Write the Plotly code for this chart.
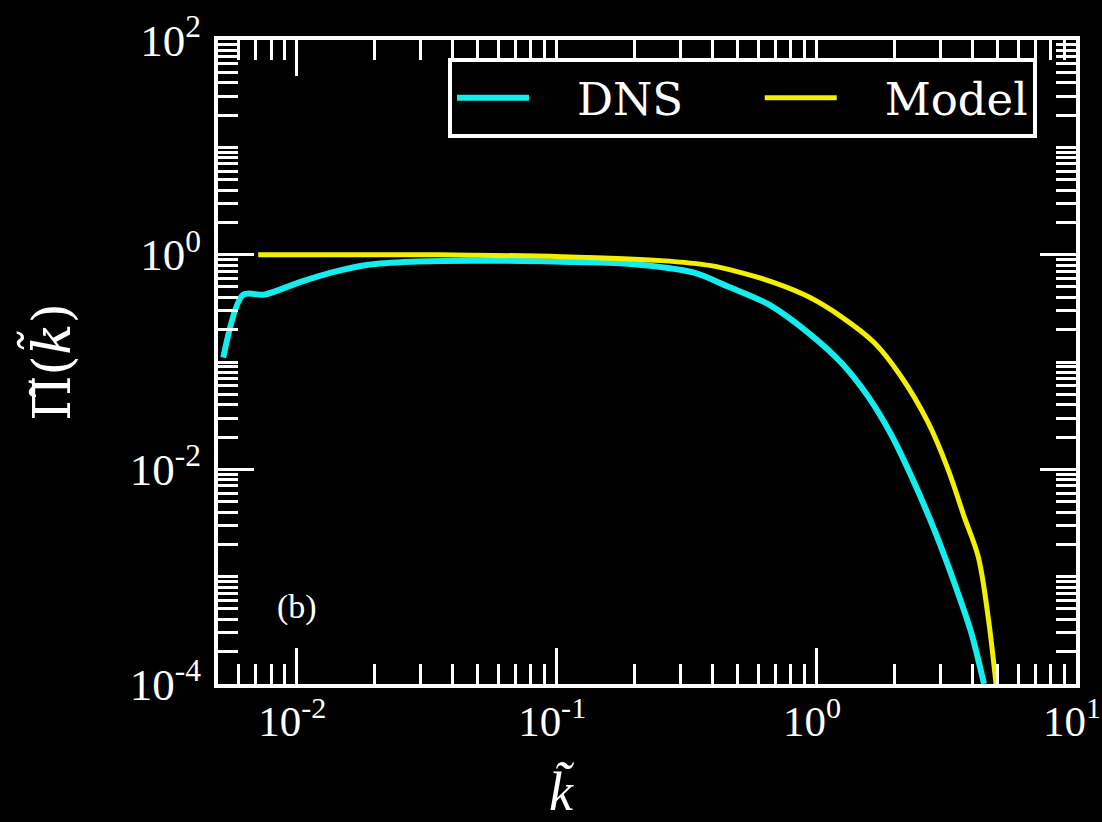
import numpy as np
import plotly.graph_objects as go

# Normalised wavenumber and energy flux, DNS vs model
k_dns = [0.00524, 0.00625, 0.00753, 0.0102, 0.0136, 0.0189, 0.0277, 0.0471,
         0.1045, 0.189, 0.3396, 0.4587, 0.6595, 0.9316, 1.248, 1.585, 1.943,
         2.382, 2.843, 3.396, 3.947, 4.428]
pi_dns = [0.110, 0.424, 0.424, 0.549, 0.680, 0.807, 0.861, 0.879,
          0.861, 0.824, 0.680, 0.504, 0.3426, 0.188, 0.0989, 0.0478, 0.02116,
          0.00757, 0.00277, 0.000889, 0.000305, 0.0001]

k_model = [0.00714, 0.0104, 0.0253, 0.0471, 0.1045, 0.2535, 0.394, 0.5146,
           0.6896, 0.9316, 1.248, 1.672, 2.123, 2.697, 3.219, 3.709, 4.20,
           4.587, 4.923]
pi_model = [1.0, 1.0, 1.0, 0.99, 0.958, 0.88, 0.79, 0.680,
            0.549, 0.4068, 0.265, 0.1518, 0.0733, 0.02737, 0.0100, 0.00365, 0.00155,
            0.00043, 0.0001]

x_major = [0.01, 0.1, 1, 10]
x_major_text = ["10<sup>-2</sup>", "10<sup>-1</sup>", "10<sup>0</sup>", "10<sup>1</sup>"]
y_major = [1e-4, 1e-2, 1, 1e2]
y_major_text = ["10<sup>-4</sup>", "10<sup>-2</sup>", "10<sup>0</sup>", "10<sup>2</sup>"]

x_lo, x_hi = 0.005, 10
y_lo, y_hi = 1e-4, 1e2


def minor_ticks(lo, hi, majors):
    vals = []
    for e in range(int(np.floor(np.log10(lo))), int(np.ceil(np.log10(hi))) + 1):
        for m in range(1, 10):
            v = m * 10.0 ** e
            if lo <= v <= hi and not any(np.isclose(v, t) for t in majors):
                vals.append(v)
    return vals


FONT = "Liberation Serif"
WIDE_FONT = "DejaVu Serif"
WHITE = "#ffffff"
NB = "\u00a0"

fig = go.Figure()
fig.add_trace(go.Scatter(x=k_dns, y=pi_dns, mode="lines", name=NB * 3 + "DNS" + NB * 5,
                         line=dict(color="#12eeee", width=6, shape="spline", smoothing=0.8)))
fig.add_trace(go.Scatter(x=k_model, y=pi_model, mode="lines", name=NB * 3 + "Model",
                         line=dict(color="#f2f000", width=5, shape="spline", smoothing=1.0)))

axis_common = dict(
    type="log",
    automargin=False,
    showgrid=False,
    zeroline=False,
    showline=True,
    linecolor=WHITE,
    linewidth=4,
    mirror="allticks",
    ticks="inside",
    ticklen=36,
    tickwidth=3,
    tickcolor=WHITE,
    tickmode="array",
    ticklabeloverflow="allow",
)

fig.update_xaxes(
    **axis_common,
    range=[np.log10(x_lo), np.log10(x_hi)],
    tickvals=x_major,
    ticktext=x_major_text,
    tickfont=dict(family=FONT, size=43, color=WHITE),
    ticklabelstandoff=-4,
    ticklabelshift=-4,
    minor=dict(tickmode="array", tickvals=minor_ticks(x_lo, x_hi, x_major),
               ticks="inside", ticklen=20, tickwidth=3, tickcolor=WHITE),
)
fig.update_yaxes(
    **axis_common,
    range=[np.log10(y_lo), np.log10(y_hi)],
    tickvals=y_major,
    ticktext=y_major_text,
    tickfont=dict(family=FONT, size=45, color=WHITE),
    ticklabelstandoff=4,
    minor=dict(tickmode="array", tickvals=minor_ticks(y_lo, y_hi, y_major),
               ticks="inside", ticklen=20, tickwidth=3, tickcolor=WHITE),
    title=dict(text="Π̃(<i>k̃</i>)", font=dict(family=WIDE_FONT, size=52, color=WHITE),
               standoff=44),
)

fig.add_annotation(text="<i>k̃</i>", xref="paper", yref="paper",
                   x=(562 - 218) / 858, y=-0.168, xanchor="center", yanchor="middle",
                   showarrow=False,
                   font=dict(family=FONT, size=54, color=WHITE))
fig.add_annotation(text="(b)", xref="paper", yref="paper",
                   x=0.092, y=0.12, xanchor="center", yanchor="middle",
                   showarrow=False,
                   font=dict(family=FONT, size=34, color=WHITE))

fig.update_layout(
    width=1102,
    height=822,
    paper_bgcolor="black",
    plot_bgcolor="black",
    margin=dict(l=218, r=26, t=40, b=138),
    showlegend=True,
    legend=dict(
        orientation="h",
        x=(448 - 218) / 858, y=0.972, xanchor="left", yanchor="top",
        bgcolor="black",
        bordercolor=WHITE,
        borderwidth=4,
        font=dict(family=WIDE_FONT, size=45, color=WHITE),
        itemwidth=72,
        tracegroupgap=0,
    ),
)

fig.write_html("out.html")
